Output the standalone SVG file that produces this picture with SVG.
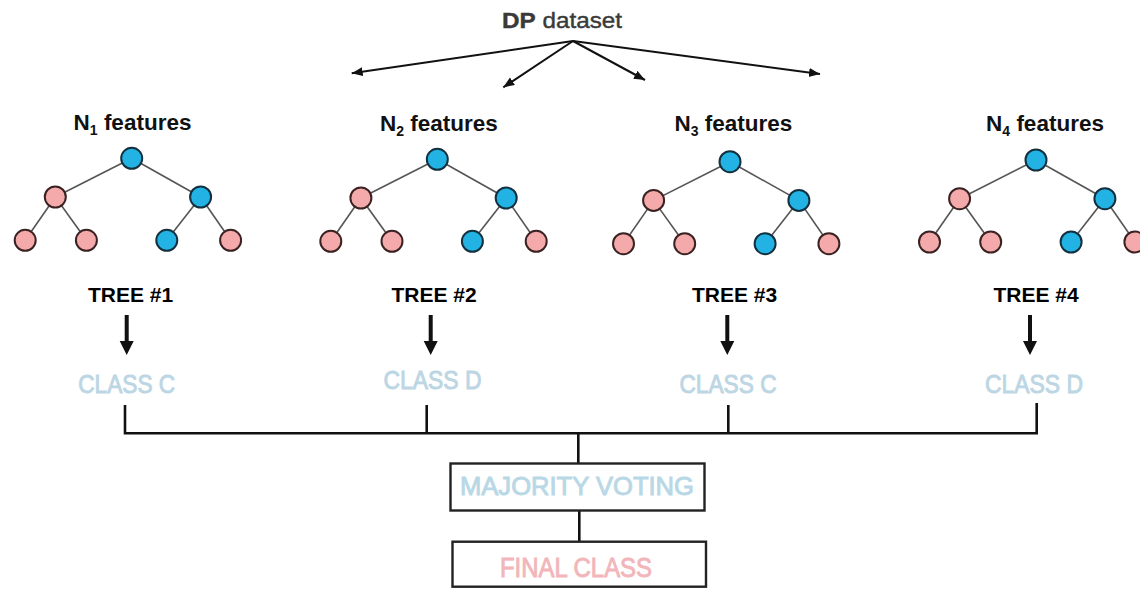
<svg xmlns="http://www.w3.org/2000/svg" xmlns:xlink="http://www.w3.org/1999/xlink" width="1140" height="589" viewBox="0 0 1140 589">
  <style>
    .title { font-family: "Liberation Sans", Arial, sans-serif; font-size: 22px; fill: #3a3a3a; stroke: #3a3a3a; stroke-width: 0.4; }
    .feat { font-family: "Liberation Sans", Arial, sans-serif; font-weight: bold; font-size: 22.5px; fill: #111; text-anchor: middle; }
    .tree { font-family: "Liberation Sans", Arial, sans-serif; font-weight: bold; font-size: 21px; fill: #000; text-anchor: middle; }
    .cls { font-family: "Liberation Sans", Arial, sans-serif; font-size: 26px; fill: #bcd6e4; stroke: #bcd6e4; stroke-width: 0.9; text-anchor: middle; }
    .vote { font-family: "Liberation Sans", Arial, sans-serif; font-size: 25.5px; fill: #b9d8e6; stroke: #b9d8e6; stroke-width: 0.9; text-anchor: middle; }
    .final { font-family: "Liberation Sans", Arial, sans-serif; font-size: 27px; fill: #f2b6ba; stroke: #f2b6ba; stroke-width: 0.9; text-anchor: middle; }
    .edge { stroke: #555; stroke-width: 1.6; }
    .blue { fill: #22b2e4; stroke: #12303e; stroke-width: 2; }
    .pink { fill: #f4a9aa; stroke: #3b2222; stroke-width: 2; }
    .split { stroke: #111; stroke-width: 2; fill: none; }
    .wire { stroke: #111; stroke-width: 2.6; fill: none; }
    .box { fill: #fff; stroke: #222; stroke-width: 2.4; }
  </style>
  <defs>
    <marker id="tip" markerUnits="userSpaceOnUse" markerWidth="12" markerHeight="10" refX="11" refY="4.5" orient="auto">
      <path d="M0,0 L11,4.5 L0,9 Z" fill="#111"/>
    </marker>
    <!-- thick downward arrow, tip at the origin -->
    <path id="down" d="M-2,-40 H2 V-14 H7 L0,0 L-7,-14 H-2 Z" fill="#111"/>
    <!-- binary decision tree, root at the origin -->
    <g id="tree-shape">
      <line class="edge" x1="0" y1="0" x2="-76.4" y2="38.7"/>
      <line class="edge" x1="0" y1="0" x2="68.9" y2="38.7"/>
      <line class="edge" x1="-76.4" y1="38.7" x2="-106.5" y2="82"/>
      <line class="edge" x1="-76.4" y1="38.7" x2="-45.3" y2="82"/>
      <line class="edge" x1="68.9" y1="38.7" x2="35.1" y2="82"/>
      <line class="edge" x1="68.9" y1="38.7" x2="98.9" y2="82"/>
      <circle class="blue" cx="0" cy="0" r="10.5"/>
      <circle class="pink" cx="-76.4" cy="38.7" r="10.5"/>
      <circle class="blue" cx="68.9" cy="38.7" r="10.5"/>
      <circle class="pink" cx="-106.5" cy="82" r="10.5"/>
      <circle class="pink" cx="-45.3" cy="82" r="10.5"/>
      <circle class="blue" cx="35.1" cy="82" r="10.5"/>
      <circle class="pink" cx="98.9" cy="82" r="10.5"/>
    </g>
  </defs>

  <rect width="1140" height="589" fill="#fff"/>

  <g id="connectors">
    <!-- dataset split -->
    <line class="split" x1="573" y1="41" x2="351.7" y2="73.3" marker-end="url(#tip)"/>
    <line class="split" x1="573" y1="41" x2="503.3" y2="87.3" marker-end="url(#tip)"/>
    <line class="split" x1="573" y1="41" x2="645" y2="80" marker-end="url(#tip)"/>
    <line class="split" x1="573" y1="41" x2="820" y2="74" marker-end="url(#tip)"/>
    <!-- tree to class -->
    <use xlink:href="#down" transform="translate(126.7,355)"/>
    <use xlink:href="#down" transform="translate(430.7,355)"/>
    <use xlink:href="#down" transform="translate(727.3,355)"/>
    <use xlink:href="#down" transform="translate(1030,355)"/>
    <!-- votes collected -->
    <path class="wire" d="M125,405 V433.3 H1036.7 V403 M426.7,405 V433.3 M728.3,405 V433.3 M578.3,433.3 V463.3"/>
    <line class="wire" x1="579.3" y1="510.7" x2="579.3" y2="541.7"/>
  </g>

  <g id="dataset">
    <text class="title" x="562" y="28.3" text-anchor="middle" textLength="120" lengthAdjust="spacingAndGlyphs"><tspan font-weight="bold">DP</tspan> dataset</text>
  </g>

  <g id="tree1">
    <text class="feat" x="132.5" y="129.5">N<tspan font-size="14" dy="5">1</tspan><tspan dy="-5"> features</tspan></text>
    <use xlink:href="#tree-shape" transform="translate(131.7,158.3)"/>
    <text class="tree" x="130.5" y="302">TREE #1</text>
    <text class="cls" x="126.7" y="392.7" textLength="97" lengthAdjust="spacingAndGlyphs">CLASS C</text>
  </g>

  <g id="tree2">
    <text class="feat" x="438.8" y="130.5">N<tspan font-size="14" dy="5">2</tspan><tspan dy="-5"> features</tspan></text>
    <use xlink:href="#tree-shape" transform="translate(437.3,159.3)"/>
    <text class="tree" x="434" y="302">TREE #2</text>
    <text class="cls" x="432.5" y="389" textLength="98" lengthAdjust="spacingAndGlyphs">CLASS D</text>
  </g>

  <g id="tree3">
    <text class="feat" x="733.3" y="130.5">N<tspan font-size="14" dy="5">3</tspan><tspan dy="-5"> features</tspan></text>
    <use xlink:href="#tree-shape" transform="translate(730,161.7)"/>
    <text class="tree" x="734.5" y="302">TREE #3</text>
    <text class="cls" x="728" y="392.7" textLength="97" lengthAdjust="spacingAndGlyphs">CLASS C</text>
  </g>

  <g id="tree4">
    <text class="feat" x="1045" y="130.5">N<tspan font-size="14" dy="5">4</tspan><tspan dy="-5"> features</tspan></text>
    <use xlink:href="#tree-shape" transform="translate(1036,160)"/>
    <text class="tree" x="1036" y="302">TREE #4</text>
    <text class="cls" x="1034" y="392.7" textLength="98" lengthAdjust="spacingAndGlyphs">CLASS D</text>
  </g>

  <g id="majority-voting">
    <rect class="box" x="450.5" y="463.5" width="254" height="47"/>
    <text class="vote" x="577" y="495" textLength="234" lengthAdjust="spacingAndGlyphs">MAJORITY VOTING</text>
  </g>

  <g id="final-class">
    <rect class="box" x="452.5" y="541.7" width="253.5" height="45"/>
    <text class="final" x="576" y="577.3" textLength="152" lengthAdjust="spacingAndGlyphs">FINAL CLASS</text>
  </g>
</svg>
